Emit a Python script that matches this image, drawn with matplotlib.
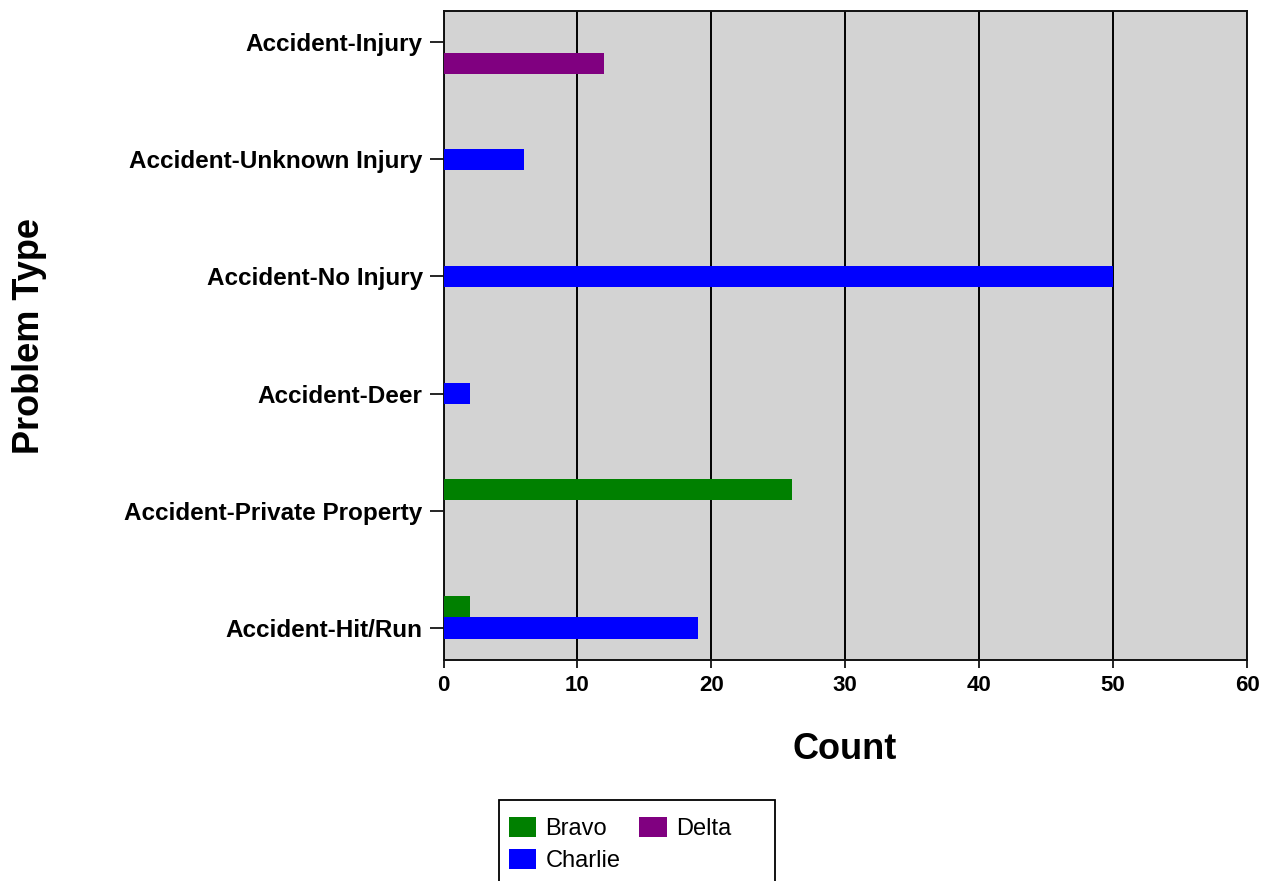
import matplotlib
matplotlib.use("Agg")
import matplotlib.pyplot as plt
from matplotlib.patches import Rectangle
import numpy as np

categories = ["Accident-Hit/Run", "Accident-Private Property", "Accident-Deer",
              "Accident-No Injury", "Accident-Unknown Injury", "Accident-Injury"]
series_names = ["Bravo", "Charlie", "Delta"]
bravo = [2, 26, 0, 0, 0, 0]
charlie = [19, 0, 2, 50, 6, 0]
delta = [0, 0, 0, 0, 0, 12]
colors = ["#008000", "#0000FF", "#800080"]
x_ticks = [0, 10, 20, 30, 40, 50, 60]

plt.rcParams['font.family'] = ['Liberation Sans', 'DejaVu Sans']

fig = plt.figure(figsize=(12.70, 8.81), dpi=100)
W, H = 1270, 881
left, right, top, bottom = 443.5, 1247, 11, 660
ax = fig.add_axes([left / W, 1 - bottom / H, (right - left) / W, (bottom - top) / H])
ax.set_facecolor("#D3D3D3")

y = np.arange(len(categories))
bh = 0.18
for vals, name, col, off in zip([bravo, charlie, delta], series_names, colors, [bh, 0, -bh]):
    ax.barh(y + off, vals, height=bh, color=col, label=name, zorder=3)

ax.set_xlim(0, 60)
ax.set_ylim(-0.273, 5.265)
ax.set_xticks(x_ticks)
ax.set_yticks(y)
ax.set_yticklabels(categories)
ax.xaxis.grid(True, color="black", linewidth=1.4, zorder=1)
ax.set_axisbelow(True)
for s in ax.spines.values():
    s.set_linewidth(1.4)
    s.set_color("#111111")

ax.tick_params(axis='y', length=10, width=1.2, pad=5, labelsize=17.5)
ax.tick_params(axis='x', length=6, width=1.2, pad=5, labelsize=16)
for lab in ax.get_yticklabels() + ax.get_xticklabels():
    lab.set_fontweight('bold')

fig.text(845 / W, 1 - 759 / H, "Count", fontsize=26, fontweight='bold',
         ha='center', va='baseline')
fig.text(30 / W, 1 - 336 / H, "Problem Type", fontsize=26, fontweight='bold',
         ha='center', va='center', rotation=90)

# legend box (extends past the bottom edge as in the reference)
fig.patches.append(Rectangle((499 / W, -20 / H), (775 - 499) / W, (881 - 800 + 20) / H,
                             transform=fig.transFigure, facecolor='white',
                             edgecolor='black', linewidth=1.3, zorder=0))

handles, labels = ax.get_legend_handles_labels()
leg = fig.legend(handles, labels, ncol=2, loc='upper left',
                 bbox_to_anchor=(496 / W, 1 - 804 / H),
                 fontsize=17, frameon=False,
                 handlelength=1.15, handleheight=0.9, borderpad=0.55,
                 columnspacing=0.8, handletextpad=0.4, labelspacing=0.385,
                 borderaxespad=0)

fig.savefig("out.png", dpi=100)
